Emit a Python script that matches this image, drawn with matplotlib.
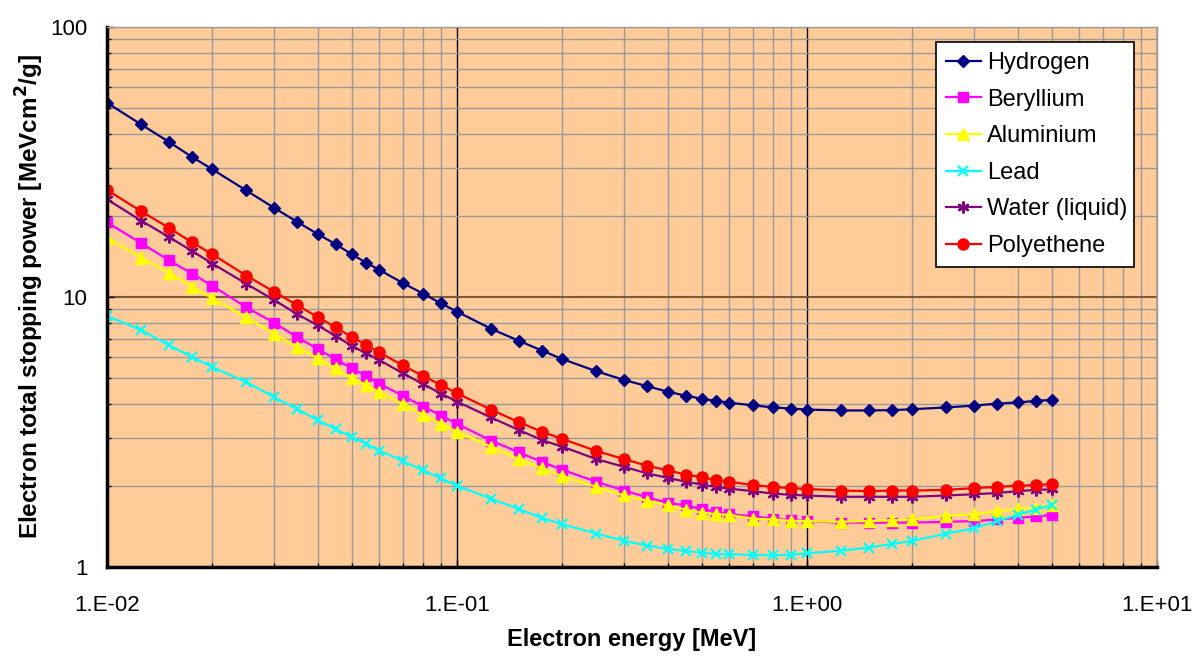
import numpy as np
import matplotlib.pyplot as plt
from matplotlib.ticker import LogLocator, NullFormatter

plt.rcParams['font.family'] = ['Liberation Sans', 'DejaVu Sans']

# energie (MeV)
energia = [0.01, 0.0125, 0.015, 0.0175, 0.02, 0.025, 0.03, 0.035, 0.04, 0.045,
           0.05, 0.055, 0.06, 0.07, 0.08, 0.09, 0.1, 0.125, 0.15, 0.175,
           0.2, 0.25, 0.3, 0.35, 0.4, 0.45, 0.5, 0.55, 0.6, 0.7,
           0.8, 0.9, 1.0, 1.25, 1.5, 1.75, 2.0, 2.5, 3.0, 3.5,
           4.0, 4.5, 5.0]

hidrogeno = [52.4, 43.6, 37.6, 33.0, 29.7, 24.8, 21.4, 18.96, 17.1, 15.7,
             14.4, 13.4, 12.6, 11.27, 10.29, 9.47, 8.83, 7.63, 6.89, 6.33,
             5.89, 5.31, 4.93, 4.67, 4.46, 4.31, 4.20, 4.12, 4.06, 3.97,
             3.90, 3.86, 3.83, 3.80, 3.80, 3.81, 3.84, 3.90, 3.96, 4.03,
             4.07, 4.12, 4.16]

berilio = [18.9, 15.85, 13.7, 12.2, 11.0, 9.16, 8.03, 7.09, 6.42, 5.89,
           5.44, 5.10, 4.77, 4.31, 3.93, 3.64, 3.39, 2.94, 2.66, 2.45,
           2.29, 2.07, 1.92, 1.81, 1.73, 1.69, 1.64, 1.60, 1.57, 1.54,
           1.51, 1.49, 1.48, 1.46, 1.46, 1.46, 1.46, 1.47, 1.48, 1.50,
           1.52, 1.54, 1.56]

aluminio = [16.6, 14.0, 12.3, 10.9, 9.89, 8.41, 7.3, 6.51, 5.93, 5.44,
            5.02, 4.72, 4.44, 4.02, 3.66, 3.40, 3.17, 2.79, 2.51, 2.32,
            2.17, 1.98, 1.84, 1.76, 1.69, 1.63, 1.59, 1.57, 1.56, 1.51,
            1.50, 1.48, 1.48, 1.47, 1.48, 1.49, 1.50, 1.55, 1.57, 1.61,
            1.64, 1.66, 1.70]

plomo = [8.51, 7.55, 6.64, 6.0, 5.5, 4.84, 4.26, 3.84, 3.50, 3.24,
         3.03, 2.86, 2.70, 2.47, 2.28, 2.13, 2.00, 1.79, 1.64, 1.52,
         1.44, 1.33, 1.25, 1.20, 1.166, 1.146, 1.13, 1.117, 1.114, 1.108,
         1.105, 1.11, 1.124, 1.149, 1.18, 1.217, 1.25, 1.33, 1.39, 1.48,
         1.56, 1.63, 1.70]

agua = [23.0, 19.2, 16.7, 14.8, 13.3, 11.2, 9.75, 8.63, 7.85, 7.17,
        6.60, 6.18, 5.84, 5.22, 4.76, 4.39, 4.10, 3.58, 3.22, 2.95,
        2.79, 2.51, 2.35, 2.22, 2.14, 2.07, 2.02, 1.98, 1.95, 1.91,
        1.87, 1.85, 1.84, 1.82, 1.82, 1.82, 1.82, 1.84, 1.86, 1.88,
        1.91, 1.93, 1.94]

polieteno = [24.9, 20.8, 18.06, 15.94, 14.39, 12.0, 10.46, 9.32, 8.43, 7.72,
             7.11, 6.64, 6.24, 5.58, 5.10, 4.72, 4.40, 3.83, 3.44, 3.17,
             2.98, 2.69, 2.51, 2.37, 2.28, 2.20, 2.15, 2.10, 2.07, 2.01,
             1.98, 1.96, 1.945, 1.92, 1.91, 1.92, 1.92, 1.93, 1.96, 1.98,
             2.00, 2.01, 2.03]

series = [
    ("Hydrogen", hidrogeno, "#000080", "D", 6.5),
    ("Beryllium", berilio, "#FF00FF", "s", 7.5),
    ("Aluminium", aluminio, "#FFFF00", "^", 8),
    ("Lead", plomo, "#00FFFF", "x", 7.5),
    ("Water (liquid)", agua, "#800080", (6, 2, 0), 8.5),
    ("Polyethene", polieteno, "#FF0000", "o", 8),
]

fig = plt.figure(figsize=(12.04, 6.59), dpi=100)
ax = fig.add_axes([107 / 1204, 1 - 567 / 659, 1050 / 1204, 540 / 659])
ax.set_facecolor("#FFCC99")

for nombre, valores, color, marcador, tam in series:
    ax.plot(energia, valores, color=color, marker=marcador, markersize=tam,
            markeredgewidth=1.6 if marcador in ("x", (6, 2, 0)) else 1,
            linewidth=1.6, label=nombre)

ax.set_xscale("log")
ax.set_yscale("log")
ax.set_xlim(0.01, 10)
ax.set_ylim(1, 100)

# rejilla
ax.xaxis.set_minor_locator(LogLocator(base=10, subs=np.arange(2, 10)))
ax.yaxis.set_minor_locator(LogLocator(base=10, subs=np.arange(2, 10)))
ax.xaxis.set_minor_formatter(NullFormatter())
ax.yaxis.set_minor_formatter(NullFormatter())
ax.grid(which="minor", color="#999999", linewidth=1)
ax.grid(which="major", axis="x", color="black", linewidth=1)
ax.grid(which="major", axis="y", color="#7a5a3a", linewidth=1.5)
ax.set_axisbelow(True)

ax.set_xticks([0.01, 0.1, 1, 10])
ax.set_xticklabels(["1.E-02", "1.E-01", "1.E+00", "1.E+01"])
ax.set_yticks([1, 10, 100])
ax.set_yticklabels(["1", "10", "100"])
ax.tick_params(which="both", direction="in", labelsize=16, length=5, width=1)
ax.tick_params(which="minor", length=3)
ax.tick_params(axis="x", pad=20)
ax.tick_params(axis="y", pad=14)

for lado in ("left", "bottom"):
    ax.spines[lado].set_linewidth(2.5)
    ax.spines[lado].set_color("black")
for lado in ("top", "right"):
    ax.spines[lado].set_linewidth(1)
    ax.spines[lado].set_color("#999999")

ax.set_xlabel("Electron energy [MeV]", fontsize=17, fontweight="bold", labelpad=9)
ax.set_ylabel("Electron total stopping power [MeVcm$^\\mathbf{2}$/g]", fontsize=17.5,
              fontweight="bold", labelpad=3)

leg = ax.legend(loc="upper left", bbox_to_anchor=(829 / 1050, 0, 198 / 1050, 525 / 540),
                mode="expand", fontsize=17, frameon=True, fancybox=False,
                edgecolor="black", framealpha=1, handlelength=1.48, handletextpad=0.25,
                labelspacing=0.62, borderpad=0.42, borderaxespad=0)
leg.get_frame().set_linewidth(1.2)

fig.savefig("out.png", dpi=100)
